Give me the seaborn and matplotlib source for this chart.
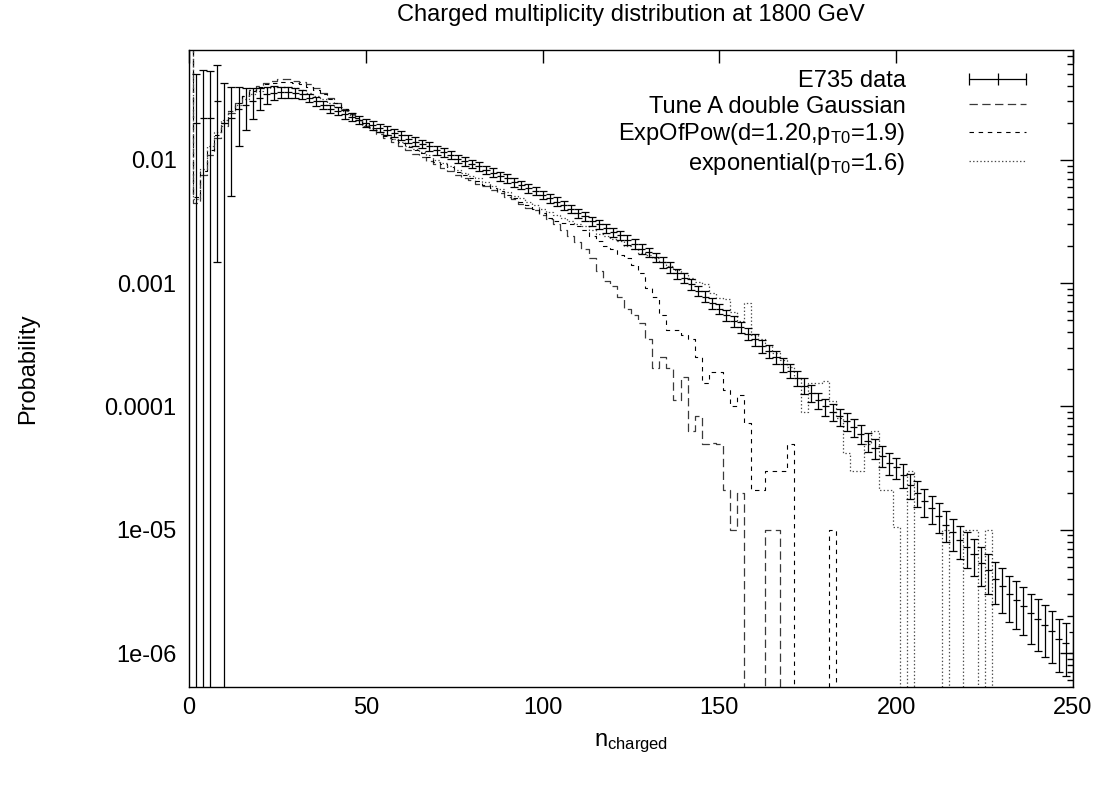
import numpy as np
import pandas as pd
import matplotlib
matplotlib.use("Agg")
import matplotlib.pyplot as plt
import seaborn as sns
from matplotlib.lines import Line2D
from matplotlib.ticker import FixedLocator, FixedFormatter, NullFormatter

# ---------------- data ----------------
n_data = np.arange(2, 251, 2)
e735 = [0.020, 0.022, 0.022, 0.030, 0.020, 0.022, 0.026, 0.028, 0.030, 0.032,
        0.034, 0.035, 0.0355, 0.0355, 0.035, 0.034, 0.032, 0.030, 0.028, 0.026,
        0.025, 0.0235, 0.0224, 0.0211, 0.0200, 0.0191, 0.0182, 0.0174, 0.0166, 0.0158,
        0.0148, 0.0141, 0.0135, 0.0129, 0.0120, 0.0115, 0.0110, 0.0102, 0.0098, 0.0093,
        0.0089, 0.0083, 0.0079, 0.0074, 0.0071, 0.0066, 0.0063, 0.0059, 0.0056, 0.0052,
        0.0049, 0.0046, 0.0043, 0.0040, 0.0037, 0.0035, 0.0032, 0.0030, 0.0028, 0.0026,
        0.00245, 0.00224, 0.00209, 0.00191, 0.00178, 0.00162, 0.00148, 0.00135, 0.00120, 0.00110,
        0.00098, 0.00087, 0.00078, 0.00069, 0.00062, 0.00055, 0.00049, 0.00044, 0.00039, 0.00035,
        0.00031, 0.00028, 0.00025, 0.00022, 0.000195, 0.000170, 0.000148, 0.000129, 0.000112, 0.000100,
        9.1e-5, 8.3e-5, 7.6e-5, 6.8e-5, 6.0e-5, 5.2e-5, 4.6e-5, 4.0e-5, 3.5e-5, 3.2e-5,
        2.8e-5, 2.3e-5, 2.0e-5, 1.7e-5, 1.5e-5, 1.3e-5, 1.1e-5, 9.5e-6, 8.3e-6, 7.2e-6,
        6.3e-6, 5.4e-6, 4.7e-6, 4.0e-6, 3.5e-6, 3.0e-6, 2.7e-6, 2.4e-6, 2.1e-6, 1.9e-6,
        1.7e-6, 1.5e-6, 1.3e-6, 1.2e-6, 1.0e-6]
e735_relerr = [1.5, 1.45, 1.4, 0.95, 1.1, 0.77, 0.5, 0.38, 0.28, 0.2,
               0.16, 0.13, 0.11, 0.10, 0.09, 0.09, 0.08, 0.08, 0.08, 0.08,
               0.08, 0.08, 0.08, 0.08, 0.08, 0.08, 0.08, 0.08, 0.08, 0.08,
               0.08, 0.08, 0.08, 0.08, 0.08, 0.08, 0.08, 0.08, 0.08, 0.08,
               0.08, 0.08, 0.08, 0.08, 0.08, 0.08, 0.08, 0.08, 0.08, 0.08,
               0.08, 0.08, 0.08, 0.08, 0.08, 0.08, 0.085, 0.085, 0.085, 0.085,
               0.09, 0.09, 0.09, 0.09, 0.09, 0.09, 0.095, 0.095, 0.095, 0.095,
               0.10, 0.10, 0.10, 0.10, 0.10, 0.105, 0.105, 0.11, 0.11, 0.11,
               0.12, 0.12, 0.12, 0.13, 0.13, 0.14, 0.14, 0.15, 0.15, 0.16,
               0.16, 0.16, 0.17, 0.17, 0.18, 0.18, 0.19, 0.19, 0.20, 0.20,
               0.22, 0.23, 0.24, 0.25, 0.26, 0.27, 0.28, 0.29, 0.30, 0.32,
               0.33, 0.35, 0.36, 0.38, 0.40, 0.40, 0.42, 0.42, 0.44, 0.45,
               0.45, 0.45, 0.46, 0.46, 0.47]

n_mc = np.arange(0, 251, 2)
tune_a = [0.1, 0.0045, 0.0075, 0.011, 0.015, 0.019, 0.024, 0.029, 0.033, 0.037,
          0.040, 0.042, 0.044, 0.045, 0.045, 0.044, 0.043, 0.041, 0.038, 0.035,
          0.032, 0.029, 0.026, 0.0235, 0.021, 0.019, 0.0174, 0.0162, 0.0151, 0.0141,
          0.0131, 0.0120, 0.0111, 0.0105, 0.0098, 0.0092, 0.0086, 0.0081, 0.0076, 0.0072,
          0.0069, 0.0064, 0.0061, 0.0057, 0.0054, 0.0050, 0.0048, 0.0044, 0.0041, 0.0039,
          0.0036, 0.0033, 0.0030, 0.0027, 0.0024, 0.00215, 0.0019, 0.0016, 0.00125, 0.00105,
          0.00095, 0.00078, 0.00062, 0.00055, 0.00048, 0.00035, 0.000205, 0.00025, 0.000205, 0.000112,
          0.000174, 0.000063, 0.000083, 0.00005, 0.000051, 0.00005, 0.000021, 0.00001, 0.00002, 0,
          0, 0, 0.00001, 0.00001, 0, 0, 0, 0, 0, 0,
          0, 0, 0, 0, 0, 0, 0, 0, 0, 0,
          0, 0, 0, 0, 0, 0, 0, 0, 0, 0,
          0, 0, 0, 0, 0, 0, 0, 0, 0, 0,
          0, 0, 0, 0, 0, 0]
exp_of_pow = [0.1, 0.005, 0.0082, 0.012, 0.016, 0.020, 0.025, 0.029, 0.033, 0.036,
              0.039, 0.041, 0.042, 0.043, 0.043, 0.042, 0.041, 0.039, 0.037, 0.034,
              0.031, 0.029, 0.026, 0.024, 0.022, 0.020, 0.0180, 0.0168, 0.0157, 0.0147,
              0.0137, 0.0127, 0.0120, 0.0113, 0.0106, 0.0097, 0.0092, 0.0087, 0.0080, 0.0076,
              0.0071, 0.0068, 0.0063, 0.0059, 0.0056, 0.0052, 0.0049, 0.0046, 0.0043, 0.0040,
              0.0037, 0.0034, 0.0032, 0.0031, 0.0030, 0.0029, 0.0027, 0.0024, 0.0022, 0.0020,
              0.0019, 0.0017, 0.0016, 0.0014, 0.0012, 0.00092, 0.00078, 0.00055, 0.00042, 0.00042,
              0.00038, 0.00035, 0.00025, 0.000155, 0.00019, 0.00019, 0.000135, 0.0001, 0.000123, 0.000074,
              0.000021, 0.000021, 0.00003, 0.00003, 0.00003, 0.00005, 0, 0, 0, 0,
              0, 0.00001, 0, 0, 0, 0, 0, 0, 0, 0,
              0, 0, 0, 0, 0, 0, 0, 0, 0, 0,
              0, 0, 0, 0, 0, 0, 0, 0, 0, 0,
              0, 0, 0, 0, 0, 0]
exponential = [0.1, 0.0048, 0.0085, 0.013, 0.017, 0.021, 0.025, 0.028, 0.031, 0.034,
               0.036, 0.038, 0.039, 0.039, 0.039, 0.038, 0.037, 0.035, 0.033, 0.031,
               0.029, 0.027, 0.025, 0.023, 0.021, 0.0192, 0.0180, 0.0169, 0.0158, 0.0149,
               0.0140, 0.0129, 0.0122, 0.0116, 0.0109, 0.0100, 0.0095, 0.0090, 0.0083, 0.0079,
               0.0074, 0.0071, 0.0066, 0.0062, 0.0058, 0.0055, 0.0051, 0.0049, 0.0046, 0.0043,
               0.0040, 0.0038, 0.0036, 0.0034, 0.0032, 0.0030, 0.0029, 0.0027, 0.0025, 0.0024,
               0.0023, 0.0022, 0.0020, 0.0019, 0.00177, 0.00170, 0.00160, 0.00148, 0.00138, 0.00128,
               0.00120, 0.00110, 0.00102, 0.00098, 0.00083, 0.00076, 0.00074, 0.00058, 0.00049, 0.00069,
               0.00038, 0.00035, 0.00031, 0.00027, 0.00024, 0.00021, 0.00017, 0.000091, 0.000155, 0.000155,
               0.000162, 0.00011, 0.00008, 0.000042, 0.00003, 0.00003, 0.00005, 0.000063, 0.000021, 0.000021,
               0.0000105, 0, 0.00003, 0, 0, 0, 0, 0.00001, 0, 0,
               0.00001, 0.00001, 0, 0.00001, 0, 0, 0, 0, 0, 0,
               0, 0, 0, 0, 0, 0]

ytick_vals = [1e-6, 1e-5, 1e-4, 1e-3, 1e-2]
ytick_labels = ["1e-06", "1e-05", "0.0001", "0.001", "0.01"]
xtick_vals = [0, 50, 100, 150, 200, 250]

labels = ["E735 data", "Tune A double Gaussian",
          r"ExpOfPow(d=1.20,p$_{\mathregular{T0}}$=1.9)",
          r"exponential(p$_{\mathregular{T0}}$=1.6)"]

# ---------------- style ----------------
sns.set_style("white")
plt.rcParams["font.family"] = ["Liberation Sans", "DejaVu Sans"]
plt.rcParams["mathtext.fontset"] = "custom"
plt.rcParams["mathtext.rm"] = "Liberation Sans"
plt.rcParams["mathtext.it"] = "Liberation Sans:italic"
plt.rcParams["mathtext.bf"] = "Liberation Sans:bold"
plt.rcParams["lines.scale_dashes"] = False
for key in ["text.color", "axes.labelcolor", "xtick.color", "ytick.color", "axes.edgecolor"]:
    plt.rcParams[key] = "black"
FS = 17

fig = plt.figure(figsize=(11.05, 7.87), dpi=100)
ax = fig.add_axes([189 / 1105, 1 - 687 / 787, (1073 - 189) / 1105, (687 - 50) / 787])

df_mc = pd.DataFrame({"n": n_mc, "tune_a": tune_a, "exp_of_pow": exp_of_pow,
                      "exponential": exponential})

styles = [("tune_a", "#3a3a3a", (0, (6, 3.2)), 0.9),
          ("exp_of_pow", "black", (0, (3.2, 3.4)), 0.8),
          ("exponential", "#4a4a4a", (0, (1.0, 1.6)), 0.9)]
for col, color, ls, lw in styles:
    sns.lineplot(data=df_mc, x="n", y=col, ax=ax, estimator=None, sort=False,
                 drawstyle="steps-mid", color=color, linestyle=ls, linewidth=lw)

yerr = np.array(e735) * np.array(e735_relerr)
ax.errorbar(n_data, e735, yerr=yerr, fmt="none", ecolor="black",
            elinewidth=0.9, capsize=2.6, capthick=0.9)
ax.errorbar(n_data, e735, xerr=1.0, fmt="none", ecolor="black",
            elinewidth=0.9, capsize=0)

ax.set_yscale("log")
ax.set_xlim(0, 250)
ax.set_ylim(5.3e-7, 0.078)

ax.yaxis.set_major_locator(FixedLocator(ytick_vals))
ax.yaxis.set_major_formatter(FixedFormatter(ytick_labels))
minor = [m * d for d in [1e-7, 1e-6, 1e-5, 1e-4, 1e-3, 1e-2] for m in range(2, 10)]
ax.yaxis.set_minor_locator(FixedLocator(minor))
ax.yaxis.set_minor_formatter(NullFormatter())
ax.xaxis.set_major_locator(FixedLocator(xtick_vals))
ax.xaxis.set_minor_locator(FixedLocator([]))

ax.tick_params(which="both", direction="in", top=True, right=True,
               labelsize=FS, color="black", labelcolor="black", width=1.0)
ax.tick_params(which="major", length=9.5)
ax.tick_params(which="minor", length=4.5)
ax.tick_params(axis="x", pad=7)
ax.tick_params(axis="y", pad=9)
for sp in ax.spines.values():
    sp.set_color("black")
    sp.set_linewidth(1.0)

ax.set_title("Charged multiplicity distribution at 1800 GeV", fontsize=FS, pad=21,
             color="black")
ax.set_xlabel(r"n$_{\mathregular{charged}}$", fontsize=FS, color="black")
ax.set_ylabel("Probability", fontsize=FS, color="black")
ax.xaxis.set_label_coords(0.5, -0.070)
ax.yaxis.set_label_coords(-0.169, 0.5)

handles = [Line2D([0], [0], color="black", lw=0.9, marker="|", markersize=9,
                  markeredgewidth=0.9),
           Line2D([0], [0], color=styles[0][1], linestyle=styles[0][2], lw=styles[0][3]),
           Line2D([0], [0], color=styles[1][1], linestyle=styles[1][2], lw=styles[1][3]),
           Line2D([0], [0], color=styles[2][1], linestyle=styles[2][2], lw=styles[2][3])]
leg = ax.legend(handles, labels, loc="upper right", frameon=False, markerfirst=False,
                numpoints=3, fontsize=FS, handlelength=3.0, handletextpad=2.4,
                labelspacing=0.15, borderpad=0, borderaxespad=0,
                bbox_to_anchor=(1033 / 1105, 1 - 70 / 787),
                bbox_transform=fig.transFigure)
for t in leg.get_texts():
    t.set_color("black")

fig.savefig("out.png", dpi=100)
